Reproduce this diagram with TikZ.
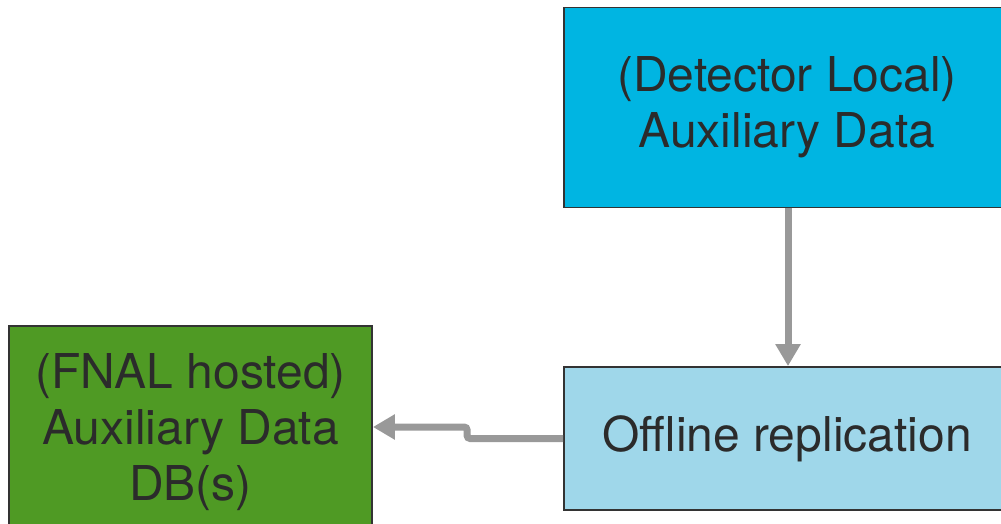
\documentclass[tikz,border=0pt]{standalone}
\usepackage{fontspec}
\setmainfont{TeX Gyre Heros}
\usetikzlibrary{arrows.meta}
\definecolor{boxline}{HTML}{333333}
\definecolor{txt}{HTML}{2B2B2B}
\definecolor{detcyan}{HTML}{00B5E2}
\definecolor{offblue}{HTML}{9FD7EA}
\definecolor{fnalgreen}{HTML}{4F9A24}
\definecolor{conngray}{HTML}{999999}
\tikzset{
  block/.style={draw=boxline, line width=1.8pt, text=txt, align=center,
    inner sep=0pt, font=\fontsize{48}{56}\selectfont},
  conn/.style={draw=conngray, line width=7pt, rounded corners=3pt,
    -{Triangle[width=24pt,length=22pt]}},
}
\begin{document}
\begin{tikzpicture}[x=1pt,y=1pt]
\useasboundingbox (0,0) rectangle (1001,-524);
\clip (0,0) rectangle (1001,-524);
\fill[white] (0,0) rectangle (1001,-524);

% detector-local source
\node[block, fill=detcyan, minimum width=446pt, minimum height=200pt]
  (det) at (787,-107.5) {(Detector Local)\\Auxiliary Data};
% replication step
\node[block, fill=offblue, minimum width=446pt, minimum height=143pt]
  (off) at (787,-438.5) {Offline replication};
% FNAL hosted store
\node[block, fill=fnalgreen, minimum width=363pt, minimum height=212pt]
  (fnal) at (190.5,-432) {(FNAL hosted)\\Auxiliary Data\\DB(s)};

\draw[conn] (det.south -| 788,0) -- (off.north -| 788,0);
\draw[conn] (off.west) -- ++(-96,0) -- ++(0,11.5) -- (fnal.east |- {(0,-427)});
\end{tikzpicture}
\end{document}
